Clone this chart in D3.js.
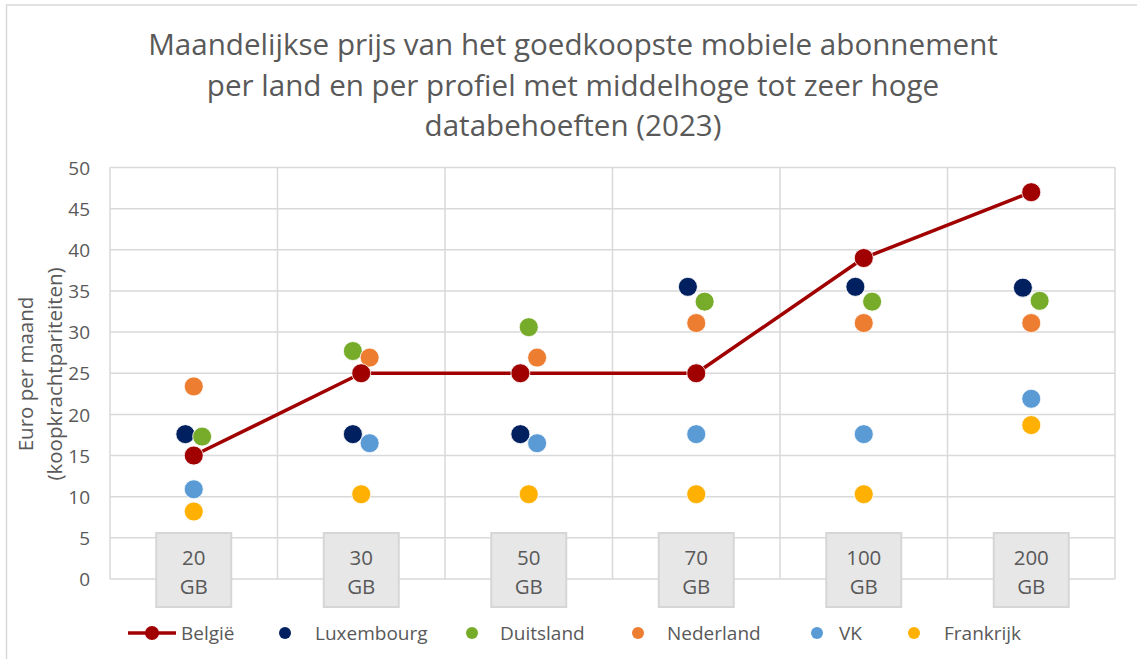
<!DOCTYPE html>
<html>
<head>
<meta charset="utf-8">
<script src="https://cdn.jsdelivr.net/npm/d3@7"></script>
<style>
  html, body { margin: 0; padding: 0; background: #fff; }
  svg { display: block; }
  text { font-family: "Open Sans", Lato, sans-serif; fill: #595959; }
</style>
</head>
<body>
<svg id="chart" width="1137" height="659"></svg>
<script>
// ---- data ----
const categories = ["20 GB", "30 GB", "50 GB", "70 GB", "100 GB", "200 GB"];
const yTicks = [0, 5, 10, 15, 20, 25, 30, 35, 40, 45, 50];
const titleLines = [
  "Maandelijkse prijs van het goedkoopste mobiele abonnement",
  "per land en per profiel met middelhoge tot zeer hoge",
  "databehoeften (2023)"
];
const yTitleLines = ["Euro per maand", "(koopkrachtpariteiten)"];

const seriesNames = ["België", "Luxembourg", "Duitsland", "Nederland", "VK", "Frankrijk"];
const belgie     = [15, 25, 25, 25, 39, 47];
const luxembourg = [17.6, 17.6, 17.6, 35.5, 35.5, 35.4];
const duitsland  = [17.3, 27.7, 30.6, 33.7, 33.7, 33.8];
const nederland  = [23.4, 26.9, 26.9, 31.1, 31.1, 31.1];
const vk         = [10.9, 16.5, 16.5, 17.6, 17.6, 21.9];
const frankrijk  = [8.2, 10.3, 10.3, 10.3, 10.3, 18.7];
// horizontal jitter within a category (fraction of category width)
const belgieJitter     = [0, 0, -0.05, 0, 0, 0];
const luxembourgJitter = [-0.05, -0.05, -0.05, -0.05, -0.05, -0.05];
const duitslandJitter  = [0.05, -0.05, 0, 0.05, 0.05, 0.05];
const nederlandJitter  = [0, 0.05, 0.05, 0, 0, 0];
const vkJitter         = [0, 0.05, 0.05, 0, 0, 0];
const frankrijkJitter  = [0, 0, 0, 0, 0, 0];

// ---- build ----
const colors = {
  "België": "#a00000", "Luxembourg": "#002060", "Duitsland": "#77ac2a",
  "Nederland": "#ed7d31", "VK": "#5b9bd5", "Frankrijk": "#ffb000"
};
const series = [
  { name: "Luxembourg", values: luxembourg, jitter: luxembourgJitter },
  { name: "Duitsland", values: duitsland, jitter: duitslandJitter },
  { name: "Nederland", values: nederland, jitter: nederlandJitter },
  { name: "VK", values: vk, jitter: vkJitter },
  { name: "Frankrijk", values: frankrijk, jitter: frankrijkJitter },
  { name: "België", values: belgie, jitter: belgieJitter, line: true }
];

const svg = d3.select("#chart");
const W = 1137, H = 659;
const plot = { left: 110, right: 1115, top: 167.5, bottom: 579 };

// outer chart border
svg.append("rect").attr("x", 6.5).attr("y", 5).attr("width", W + 20).attr("height", H + 20)
  .attr("fill", "none").attr("stroke", "#d9d9d9").attr("stroke-width", 1.5);

const x = d3.scaleBand().domain(categories).range([plot.left, plot.right]).padding(0);
const y = d3.scaleLinear().domain([0, 50]).range([plot.bottom, plot.top]);
const px = (i, j) => x(categories[i]) + x.bandwidth() * (0.5 + j);

// title (fit first line to ~850px)
const title = svg.append("g");
const tl = titleLines.map((t, i) => title.append("text").attr("x", 573).attr("y", 55 + i * 40.5)
    .attr("text-anchor", "middle").attr("font-size", 28).text(t));
const w0 = tl[0].node().getComputedTextLength();
if (w0 > 0) {
  const fs = Math.min(30, Math.max(24, 28 * 850 / w0));
  tl.forEach(t => t.attr("font-size", fs));
}

// grid
const grid = svg.append("g");
grid.selectAll("line.h").data(yTicks).join("line")
  .attr("x1", plot.left).attr("x2", plot.right)
  .attr("y1", d => y(d)).attr("y2", d => y(d))
  .attr("stroke", "#d9d9d9").attr("stroke-width", 1.5);
const vlines = categories.map(c => x(c)).concat([plot.right]);
grid.selectAll("line.v").data(vlines).join("line")
  .attr("x1", d => d).attr("x2", d => d)
  .attr("y1", plot.top).attr("y2", plot.bottom)
  .attr("stroke", "#d9d9d9").attr("stroke-width", 1.5);

// y axis labels
const yAxis = d3.axisLeft(y).tickValues(yTicks).tickSize(0).tickPadding(0);
const ya = svg.append("g").attr("transform", `translate(${plot.left - 20},0)`).call(yAxis);
ya.select(".domain").remove();
ya.selectAll("text").attr("font-size", 19).attr("fill", "#595959")
  .style("font-family", "'Open Sans', Lato, sans-serif").attr("dy", "0.35em");

// y title
const yt = svg.append("g").attr("transform", `translate(0,374)`);
yTitleLines.forEach((t, i) => {
  yt.append("text").attr("transform", `translate(${33 + i * 29},0) rotate(-90)`)
    .attr("text-anchor", "middle").attr("font-size", 20.5).text(t);
});

// category boxes
const boxW = 75, boxH = 74;
const boxes = svg.append("g").selectAll("g").data(categories).join("g")
  .attr("transform", d => `translate(${x(d) + x.bandwidth() / 2},${533})`);
boxes.append("rect").attr("x", -boxW / 2).attr("y", 0).attr("width", boxW).attr("height", boxH)
  .attr("fill", "#e7e7e7").attr("stroke", "#d6d6d6").attr("stroke-width", 2);
boxes.each(function (d) {
  const parts = d.split(" ");
  const g = d3.select(this);
  parts.forEach((p, i) => {
    g.append("text").attr("x", 0).attr("y", 31.5 + i * 29).attr("text-anchor", "middle")
      .attr("font-size", 20.5).text(p);
  });
});

// series
const marks = svg.append("g");
series.forEach(s => {
  const pts = s.values.map((v, i) => [px(i, s.jitter[i]), y(v)]);
  if (s.line) {
    marks.append("path").attr("d", d3.line()(pts)).attr("fill", "none")
      .attr("stroke", colors[s.name]).attr("stroke-width", 3.5).attr("stroke-linejoin", "round");
  }
  marks.append("g").selectAll("circle").data(pts).join("circle")
    .attr("cx", d => d[0]).attr("cy", d => d[1]).attr("r", 9.5)
    .attr("fill", colors[s.name]).attr("stroke", "#fff").attr("stroke-width", 0.8);
});

// legend
const legendX = [152, 285, 472, 638, 817, 914];
const legendTextX = [181, 315, 500, 667, 839, 944];
const ly = 633;
const legend = svg.append("g");
seriesNames.forEach((n, i) => {
  if (n === "België") {
    legend.append("line").attr("x1", legendX[i] - 24).attr("x2", legendX[i] + 24)
      .attr("y1", ly).attr("y2", ly).attr("stroke", colors[n]).attr("stroke-width", 3.5);
    legend.append("circle").attr("cx", legendX[i]).attr("cy", ly).attr("r", 7).attr("fill", colors[n]);
  } else {
    legend.append("circle").attr("cx", legendX[i]).attr("cy", ly).attr("r", 6).attr("fill", colors[n]);
  }
  legend.append("text").attr("x", legendTextX[i]).attr("y", ly).attr("dy", "0.35em")
    .attr("font-size", 19).text(n);
});
</script>
</body>
</html>
